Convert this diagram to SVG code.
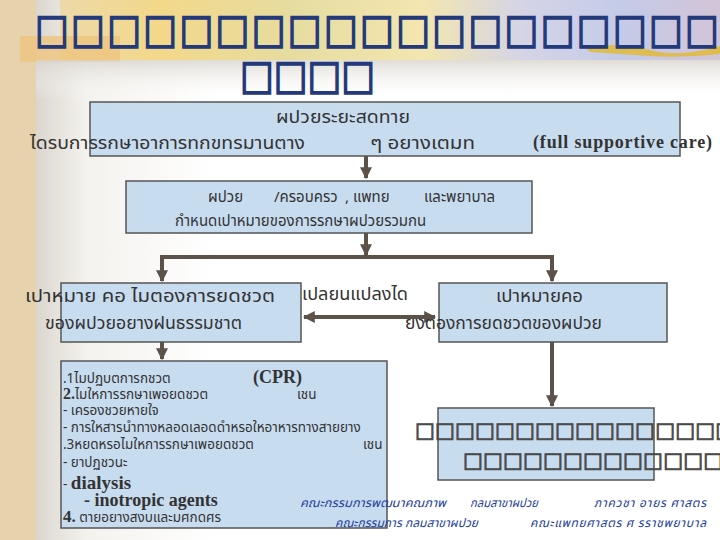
<svg xmlns="http://www.w3.org/2000/svg" width="720" height="540" viewBox="0 0 720 540">
<defs>
<linearGradient id="bg" x1="0" y1="0" x2="1" y2="0">
<stop offset="0" stop-color="#c9c3b8"/><stop offset="0.12" stop-color="#f4f2ee"/><stop offset="0.3" stop-color="#ffffff"/><stop offset="1" stop-color="#ffffff"/>
</linearGradient>
<linearGradient id="banner" x1="0" y1="0" x2="1" y2="0">
<stop offset="0" stop-color="#ecd9a8"/><stop offset="0.15" stop-color="#f3d88a"/><stop offset="0.35" stop-color="#e6dca0"/><stop offset="0.55" stop-color="#f3e6b0"/><stop offset="0.7" stop-color="#d5d4e6"/><stop offset="0.85" stop-color="#c4cbe8"/><stop offset="1" stop-color="#d3c4d8"/>
</linearGradient>
<linearGradient id="shadow" x1="0" y1="0" x2="0" y2="1">
<stop offset="0" stop-color="#d8d4cc" stop-opacity="0.8"/><stop offset="1" stop-color="#ffffff" stop-opacity="0"/>
</linearGradient>
<marker id="ah" viewBox="0 0 10 10" refX="9" refY="5" markerWidth="3" markerHeight="3" orient="auto-start-reverse">
<path d="M0,0 L10,5 L0,10 z" fill="#5b5249"/>
</marker>
<style>
.box{fill:#c8dcf0;stroke:#555555;stroke-width:1.5}
.th{font-family:"Noto Sans Thai","Loma","Garuda","DejaVu Sans",sans-serif;fill:#333333}
.thb{font-family:"Noto Sans Thai","Loma","Garuda","DejaVu Sans",sans-serif;fill:#333333;font-size:18px}
.thl{font-family:"Noto Sans Thai","Loma","Garuda","DejaVu Sans",sans-serif;fill:#333333;font-size:13.5px}
.ser{font-family:"Liberation Serif","Times New Roman",serif;font-weight:bold;fill:#333333}
.foot{font-family:"Noto Sans Thai","Loma","Garuda","DejaVu Sans",sans-serif;font-style:italic;fill:#23409a;font-size:12px}
.tofu{font-family:"DejaVu Sans",sans-serif;fill:#23397a;stroke:#23397a;stroke-width:1.6}
.tofu2{font-family:"DejaVu Sans",sans-serif;fill:#4a4a4a;stroke:#4a4a4a;stroke-width:0.9}
.conn{stroke:#5b5249;stroke-width:4;fill:none}
</style>
</defs>
<rect x="0" y="0" width="720" height="540" fill="url(#bg)"/>
<rect x="0" y="0" width="36" height="540" fill="#e6d3ad"/>
<rect x="60" y="0" width="660" height="60" fill="url(#banner)"/>
<rect x="20" y="36" width="100" height="26" fill="#edc47e" opacity="0.8"/>
<path d="M585,47 Q620,42 650,50 T720,46 L720,54 Q680,58 650,56 T590,52 z" fill="#e2b92a" opacity="0.8"/>
<rect x="36" y="60" width="684" height="40" fill="url(#shadow)"/>
<g id="title">
<text class="tofu" transform="translate(35,0) scale(0.87,1)" x="0" y="43" font-size="41" textLength="786" lengthAdjust="spacing">□□□□□□□□□□□□□□□□□□□</text>
<text class="tofu" transform="translate(240,0) scale(0.87,1)" x="0" y="89" font-size="41" textLength="155" lengthAdjust="spacing">□□□□</text>
</g>
<g id="connectors">
<line class="conn" x1="366" y1="156" x2="366" y2="178" marker-end="url(#ah)"/>
<line class="conn" x1="366" y1="233" x2="366" y2="255" marker-end="url(#ah)"/>
<line class="conn" x1="160" y1="257" x2="554" y2="257"/>
<line class="conn" x1="162" y1="257" x2="162" y2="281" marker-end="url(#ah)"/>
<line class="conn" x1="552" y1="257" x2="552" y2="281" marker-end="url(#ah)"/>
<line class="conn" x1="304" y1="317" x2="435" y2="317" marker-start="url(#ah)" marker-end="url(#ah)"/>
<line class="conn" x1="162" y1="342" x2="162" y2="359" marker-end="url(#ah)"/>
<line class="conn" x1="552" y1="342" x2="552" y2="406" marker-end="url(#ah)"/>
</g>
<g id="nodeA">
<rect class="box" x="90" y="102" width="590" height="54"/>
<text class="thb" x="276" y="123" textLength="134" lengthAdjust="spacingAndGlyphs">ผปวยระยะสดทาย</text>
<text class="thb" x="30" y="149" textLength="275" lengthAdjust="spacingAndGlyphs">ไดรบการรกษาอาการทกขทรมานตาง</text>
<text class="thb" x="370" y="149" textLength="105" lengthAdjust="spacingAndGlyphs">ๆ อยางเตมท</text>
<text class="ser" x="533" y="148" font-size="18" textLength="179" lengthAdjust="spacing">(full supportive care)</text>
</g>
<g id="nodeB">
<rect class="box" x="126" y="181" width="406" height="52"/>
<text class="th" font-size="15"><tspan x="208" y="202">ผปวย</tspan><tspan x="274" y="202">/ครอบครว</tspan><tspan x="345" y="202">, แพทย</tspan><tspan x="424" y="202">และพยาบาล</tspan></text>
<text class="th" font-size="15" x="175" y="226">กำหนดเปาหมายของการรกษาผปวยรวมกน</text>
</g>
<g id="nodeC">
<rect class="box" x="61" y="283" width="240" height="59"/>
<text class="thb" x="25" y="302" textLength="250" lengthAdjust="spacingAndGlyphs">เปาหมาย  คอ  ไมตองการยดชวต</text>
<text class="thb" x="45" y="329" textLength="197" lengthAdjust="spacingAndGlyphs">ของผปวยอยางฝนธรรมชาต</text>
</g>
<g id="label-change">
<text class="thb" x="302" y="300" textLength="106" lengthAdjust="spacingAndGlyphs">เปลยนแปลงได</text>
</g>
<g id="nodeD">
<rect class="box" x="439" y="283" width="228" height="59"/>
<text class="thb" x="496" y="302" textLength="87" lengthAdjust="spacingAndGlyphs">เปาหมายคอ</text>
<text class="thb" x="405" y="329" textLength="197" lengthAdjust="spacingAndGlyphs">ยงตองการยดชวตของผปวย</text>
</g>
<g id="nodeE">
<rect class="box" x="61" y="361" width="326" height="167"/>
<text class="thl" x="63" y="383">.1ไมปฏบตการกชวต</text>
<text class="ser" x="253" y="383" font-size="18">(CPR)</text>
<text class="thl" x="63" y="399"><tspan class="ser" font-size="16">2.</tspan>ไมใหการรกษาเพอยดชวต</text>
<text class="thl" x="297" y="399">เชน</text>
<text class="thl" x="63" y="415">-  เครองชวยหายใจ</text>
<text class="thl" x="63" y="432">-  การใหสารนำทางหลอดเลอดดำหรอใหอาหารทางสายยาง</text>
<text class="thl" x="63" y="449">.3หยดหรอไมใหการรกษาเพอยดชวต</text>
<text class="thl" x="363" y="449">เชน</text>
<text class="thl" x="63" y="467">-   ยาปฏชวนะ</text>
<text class="thl" x="63" y="489">-  <tspan class="ser" font-size="19">dialysis</tspan></text>
<text class="ser" x="84" y="506" font-size="18">- inotropic agents</text>
<text class="thl" x="63" y="522"><tspan class="ser" font-size="17">4.</tspan> ตายอยางสงบและมศกดศร</text>
</g>
<g id="nodeF">
<rect class="box" x="438" y="408" width="216" height="72"/>
<text class="tofu2" x="415" y="437" font-size="21" textLength="320" lengthAdjust="spacing">□□□□□□□□□□□□□□□□</text>
<text class="tofu2" x="463" y="467" font-size="21" textLength="260" lengthAdjust="spacing">□□□□□□□□□□□□□</text>
</g>
<g id="footer">
<text class="foot" x="300" y="507" textLength="146" lengthAdjust="spacingAndGlyphs">คณะกรรมการพฒนาคณภาพ</text>
<text class="foot" x="470" y="507" textLength="68" lengthAdjust="spacingAndGlyphs">กลมสาขาผปวย</text>
<text class="foot" x="594" y="507" textLength="112" lengthAdjust="spacing">ภาควชา อายร ศาสตร</text>
<text class="foot" x="335" y="527" textLength="143" lengthAdjust="spacing">คณะกรรมการ กลมสาขาผปวย</text>
<text class="foot" x="530" y="527" textLength="176" lengthAdjust="spacing">คณะแพทยศาสตร ศ รราชพยาบาล</text>
</g>
</svg>
